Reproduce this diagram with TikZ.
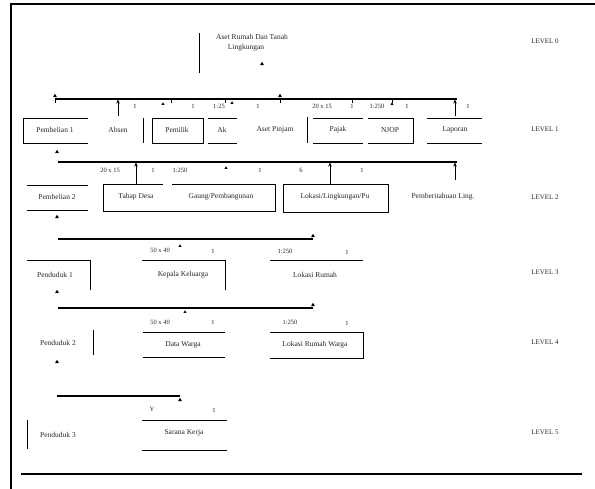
\documentclass[tikz,border=0pt]{standalone}
\usepackage{fontspec}
\setmainfont{Liberation Serif}
\usetikzlibrary{arrows.meta,shapes.geometric}
\begin{document}
\begin{tikzpicture}[x=1pt,y=-1pt,
  txt/.style={font=\fontsize{7.5}{9}\selectfont, inner sep=0pt, text=black!85},
  sm/.style={font=\fontsize{6.5}{7}\selectfont, inner sep=0pt, text=black!85},
  lvl/.style={font=\fontsize{7}{8}\selectfont, inner sep=0pt, text=black!85},
  ln/.style={line width=0.9pt},
  bus/.style={line width=1.3pt},
  tri/.style={regular polygon, regular polygon sides=3, fill=black, minimum size=4.5pt, inner sep=0pt},
  up/.style={line width=0.9pt, -{Stealth[length=4pt,width=3.5pt]}}]
\useasboundingbox (0,0) rectangle (595,489);
% frame
\draw[line width=2pt] (595,4) -- (11,4) -- (11,489);
\draw[line width=1.5pt] (21,474) -- (582,474);

% ---------- LEVEL 0
\draw[ln] (199,33) -- (199,73);
\node[txt] (t0a) at (252,37) {Aset Rumah Dan Tanah};
\node[txt] (t0b) at (246,48) {Lingkungan};
\node[tri] (m0) at (262,64) {};
\node[lvl] (lv0) at (545,41) {LEVEL 0};

% ---------- bus 1
\coordinate (b1l) at (55,99); \coordinate (b1r) at (457,99);
\draw[bus] (b1l) -- (b1r);
\foreach \x in {55,171,225,280,352,392} \draw[ln] (\x,99) -- (\x,103);
\node[tri] at (55,96) {};
\node[tri] at (280,96) {};
\coordinate (a11) at (118,116); \coordinate (a11t) at (118,99.5);
\coordinate (a12) at (455,116); \coordinate (a12t) at (455,99.5);
\draw[up] (a11) -- (a11t);
\draw[up] (a12) -- (a12t);
% labels row 1
\node[sm] at (135,106) {1};
\node[tri, minimum size=3.5pt] at (163,104) {};
\node[sm] at (193,106) {1};
\node[sm] at (219,106) {1:25};
\node[tri, minimum size=3.5pt] at (232,103) {};
\node[sm] at (258,106) {1};
\node[sm] at (322,106) {20 x 15};
\node[sm] at (352,106) {1};
\node[sm] at (377,106) {1:250};
\node[tri, minimum size=3.5pt] at (392,104) {};
\node[sm] at (407,106) {1};
\node[sm] at (468,106) {1};

% ---------- row 1 (LEVEL 1)
\draw[ln] (88,118) -- (23,118) -- (23,143) -- (88,143);
\node[txt] (p1) at (55,130) {Pembelian 1};
\node[txt] (abs) at (118,130) {Absen};
\draw[ln] (143,118) -- (143,143);
\draw[ln] (152,118) rectangle (203,143);
\node[txt] (pem) at (177,130) {Pemilik};
\draw[ln] (208,118) -- (237,118) (208,143) -- (237,143);
\node[txt] (ak) at (222,130) {Ak};
\node[txt] (asp) at (275,130) {Aset Pinjam};
\draw[ln] (307,117) -- (307,143);
\draw[ln] (313,118) -- (363,118) (313,143) -- (363,143);
\node[txt] (pjk) at (338,130) {Pajak};
\draw[ln] (368,118) -- (413,118) -- (413,143) -- (368,143);
\node[txt] (njop) at (390,130) {NJOP};
\draw[ln] (427,118) -- (482,118) (427,143) -- (482,143);
\node[txt] (lap) at (455,130) {Laporan};
\node[lvl] (lv1) at (545,129) {LEVEL 1};
\node[tri] (m1) at (57,152) {};

% ---------- bus 2
\coordinate (b2l) at (58,162); \coordinate (b2r) at (457,162);
\draw[bus] (b2l) -- (b2r);
\coordinate (a21) at (136,184); \coordinate (a21t) at (136,162.5);
\coordinate (a22) at (330,184); \coordinate (a22t) at (330,162.5);
\coordinate (a23) at (455,180); \coordinate (a23t) at (455,162.5);
\draw[up] (a21) -- (a21t);
\draw[up] (a22) -- (a22t);
\draw[up] (a23) -- (a23t);
\node[sm] at (110,170) {20 x 15};
\node[sm] at (153,170) {1};
\node[sm] at (180,170) {1:250};
\node[tri, minimum size=3.5pt] at (226,168) {};
\node[sm] at (260,170) {1};
\node[sm] at (301,170) {6};
\node[sm] at (362,170) {1};

% ---------- row 2 (LEVEL 2)
\draw[ln] (27,185) -- (88,185) (27,210) -- (88,210);
\node[txt] (p2) at (57,197) {Pembelian 2};
\draw[ln] (163,184) -- (103,184) -- (103,211) -- (275,211) -- (275,184) -- (172,184);
\node[txt] (thd) at (136,197) {Tahap Desa};
\node[txt] (gau) at (221,197) {Gaung/Pembangunan};
\draw[ln] (283,184) rectangle (388,212);
\node[txt] (lok) at (335,197) {Lokasi/Lingkungan/Pu};
\node[txt] (pbt) at (443,197) {Pemberitahuan Ling.};
\node[lvl] (lv2) at (545,197) {LEVEL 2};
\node[tri] (m2) at (57,217) {};

% ---------- bus 3
\coordinate (b3l) at (58,239); \coordinate (b3r) at (313,239);
\draw[bus] (b3l) -- (b3r);
\node[tri] at (313,236) {};
\node[sm] at (160,250) {50 x 40};
\node[tri, minimum size=3.5pt] at (180,246) {};
\node[sm] at (213,251) {1};
\node[sm] at (285,251) {1:250};
\node[sm] at (347,252) {1};

% ---------- row 3 (LEVEL 3)
\draw[ln] (27,260) -- (90,260) -- (90,290);
\node[txt] (pd1) at (55,275) {Penduduk 1};
\draw[ln] (142,260) -- (225,260) -- (225,290);
\node[txt] (kk) at (183,275) {Kepala Keluarga};
\draw[ln] (270,260) -- (363,260);
\node[txt] (lr) at (315,275) {Lokasi Rumah};
\node[lvl] (lv3) at (545,272) {LEVEL 3};
\node[tri] (m3) at (57,292) {};

% ---------- bus 4
\coordinate (b4l) at (58,308); \coordinate (b4r) at (313,308);
\draw[bus] (b4l) -- (b4r);
\node[tri] at (313,305) {};
\node[tri, minimum size=3.5pt] at (185,312) {};
\node[sm] at (160,322) {50 x 40};
\node[sm] at (213,322) {1};
\node[sm] at (290,322) {1:250};
\node[sm] at (347,323) {1};

% ---------- row 4 (LEVEL 4)
\node[txt] (pd2) at (58,343) {Penduduk 2};
\draw[ln] (93,330) -- (93,355);
\draw[ln] (143,332) -- (225,332) (143,357) -- (225,357);
\node[txt] (dw) at (183,345) {Data Warga};
\draw[ln] (270,332) -- (363,332) -- (363,358) -- (270,358);
\node[txt] (lrw) at (315,345) {Lokasi Rumah Warga};
\node[lvl] (lv4) at (545,342) {LEVEL 4};
\node[tri] (m4) at (57,362) {};

% ---------- bus 5
\coordinate (b5l) at (57,396); \coordinate (b5r) at (180,396);
\draw[bus] (b5l) -- (b5r);
\node[tri] at (180,400) {};
\node[sm] at (152,409) {Y};
\node[sm] at (214,410) {1};

% ---------- row 5 (LEVEL 5)
\draw[ln] (27,420) -- (27,449);
\node[txt] (pd3) at (58,435) {Penduduk 3};
\draw[ln] (142,420) -- (227,420) (142,450) -- (227,450);
\node[txt] (sk) at (184,433) {Sarana Kerja};
\node[lvl] (lv5) at (545,432) {LEVEL 5};
\end{tikzpicture}
\end{document}
